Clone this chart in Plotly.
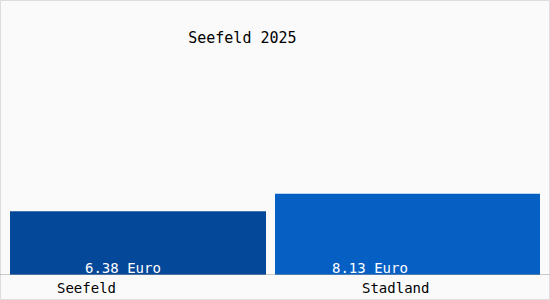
import plotly.graph_objects as go

categories = ["Seefeld", "Stadland"]
values = [6.38, 8.13]
value_labels = ["6.38 Euro", "8.13 Euro"]
colors = ["#04489A", "#0660C4"]
title = "Seefeld 2025"

W, H = 550, 300
ml, mr, mt, mb = 5, 5, 23, 25
pw, ph = W - ml - mr, H - mt - mb
cat_px = pw / len(categories)

# bar geometry (pixel edges converted to category units)
bar_left_px = [10, 275]
bar_w_px = [256, 265]
offsets = [(l - (ml + cat_px * (i + 0.5))) / cat_px for i, l in enumerate(bar_left_px)]
widths = [w / cat_px for w in bar_w_px]

fig = go.Figure(go.Bar(
    x=categories, y=values, marker_color=colors, marker_line_width=0,
    offset=offsets, width=widths, hoverinfo="skip",
))

fig.update_layout(
    width=W, height=H,
    margin=dict(l=ml, r=mr, t=mt, b=mb),
    paper_bgcolor="#FAFAFA", plot_bgcolor="#FAFAFA",
    showlegend=False,
    xaxis=dict(showticklabels=False, showgrid=False, zeroline=False, showline=False,
               range=[-0.5, 1.5]),
    yaxis=dict(range=[0, 25.2], visible=False, showgrid=False),
    title=dict(text=title, x=(243 - ml) / pw, xanchor="center", y=1 - 38 / H, yanchor="middle",
               font=dict(family="DejaVu Sans Mono", size=15, color="black")),
)

label_shifts = [-17, -40]
for c, t, s in zip(categories, value_labels, label_shifts):
    fig.add_annotation(x=c, y=0, yref="y", xref="x", text=t, showarrow=False,
                       yanchor="bottom", yshift=-3, xshift=s,
                       font=dict(family="DejaVu Sans Mono", size=14, color="white"))

cat_shifts = [-54, -15]
for c, s in zip(categories, cat_shifts):
    fig.add_annotation(x=c, y=0, yref="y", xref="x", text=c, showarrow=False,
                       yanchor="top", yshift=-3, xshift=s,
                       font=dict(family="DejaVu Sans Mono", size=14, color="black"))

# axis baseline across full width
fig.add_shape(type="line", xref="paper", yref="y", x0=-ml / pw, x1=1 + mr / pw, y0=0, y1=0,
              line=dict(color="#9A9A9A", width=1))
# outer frame
fig.add_shape(type="rect", xref="paper", yref="paper",
              x0=(-ml + 0.5) / pw, x1=1 + (mr - 0.5) / pw,
              y0=(-mb + 0.5) / ph, y1=1 + (mt - 0.5) / ph,
              line=dict(color="#DDDDDD", width=1), layer="below")

fig.write_html("out.html")
